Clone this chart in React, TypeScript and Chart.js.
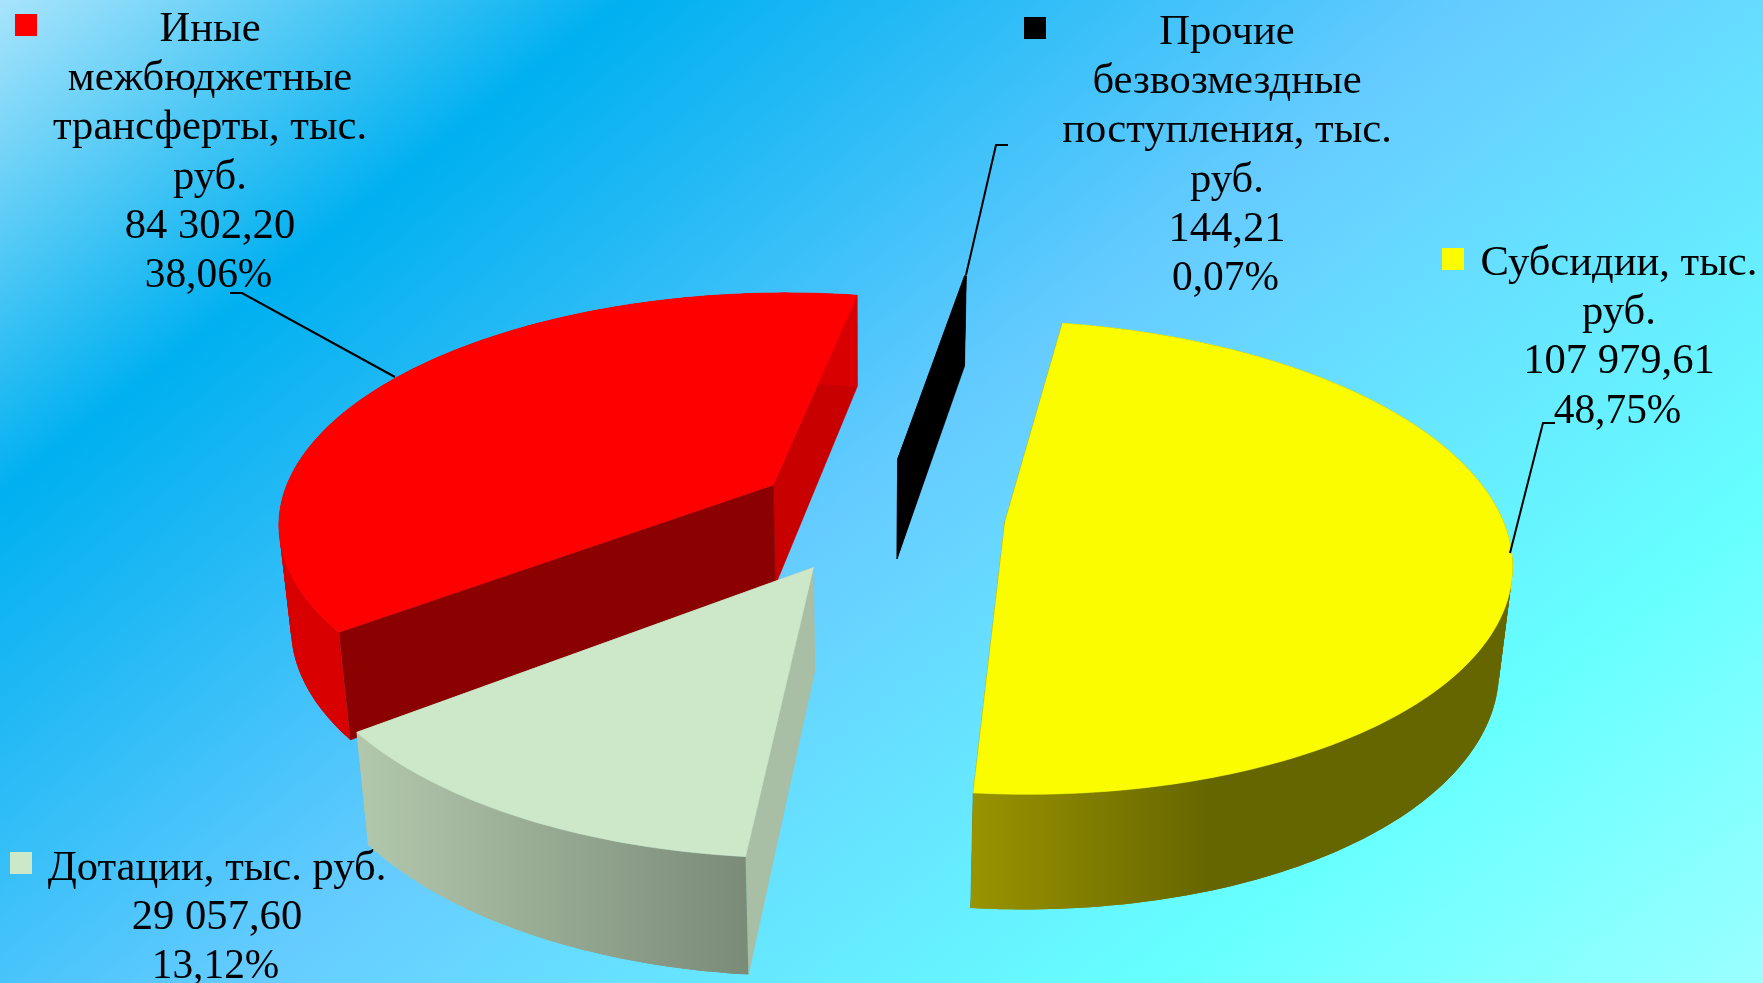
import React, { useEffect, useRef } from "react";
import { Chart, registerables } from "chart.js";

Chart.register(...registerables);

// ---- data ----
const categories = [
  "Субсидии, тыс. руб.",
  "Дотации, тыс. руб.",
  "Иные межбюджетные трансферты, тыс. руб.",
  "Прочие безвозмездные поступления, тыс. руб.",
];
const seriesValues = [107979.61, 29057.6, 84302.2, 144.21];
const valueLabels = ["107 979,61", "29 057,60", "84 302,20", "144,21"];
const percentLabels = ["48,75%", "13,12%", "38,06%", "0,07%"];
const nameLines = [
  ["Субсидии, тыс.", "руб."],
  ["Дотации, тыс. руб."],
  ["Иные", "межбюджетные", "трансферты, тыс.", "руб."],
  ["Прочие", "безвозмездные", "поступления, тыс.", "руб."],
];

// ---- styles ----
const topColors = ["#fcfc00", "#cde8c9", "#ff0000", "#000000"];
const startFaceColors = ["#666600", "#a8bea5", "#8b0000", "#000000"];
const endFaceColors = ["#666600", "#a8bea5", "#c80000", "#000000"];
const drawOrder = [3, 0, 2, 1];

const W = 1763;
const H = 983;
const FONT = '42.6px "Liberation Serif"';
const PERCENT_FONT = '41.4px "Liberation Serif"';
const LINE = 49.2;
const PERCENT_SHIFT = -1.5;

// label layout: text centre x, first baseline y, swatch x, swatch y
const labelBoxes = [
  { cx: 1619, y: 275, sx: 1442, sy: 248 },
  { cx: 217, y: 880, sx: 10, sy: 852 },
  { cx: 210, y: 41, sx: 15, sy: 14 },
  { cx: 1227, y: 44, sx: 1024, sy: 17 },
];
const leaders = [
  [[1555, 423], [1543, 423], [1510, 553]],
  [],
  [[230, 293], [242, 293], [395, 377]],
  [[1008, 145], [996, 145], [966, 275]],
];

// 3D projection of the flat pie plane
const sliceExplode = [0.258, 0.258, 0.25, 0.25];
const PERSPECTIVE = 0.15;
const SCALE_X = 1.009;
const SCALE_Y = 0.466;
const CENTER_SHIFT_X = -4;
const CENTER_SHIFT_Y = 22.5;
const DEPTH = 102;
const DEPTH_POWER = 0.72;
const NADIR_X = 866;
const LEAN = 0.0002;

type P = { x: number; y: number };

function project(cx: number, cy: number, R: number, u: number, v: number) {
  const w = 1 + PERSPECTIVE * v;
  const top: P = {
    x: cx + CENTER_SHIFT_X + (SCALE_X * R * u) / w,
    y: cy + CENTER_SHIFT_Y - (SCALE_Y * R * v) / w,
  };
  const d = DEPTH / Math.pow(w, DEPTH_POWER);
  const bottom: P = {
    x: top.x + (NADIR_X - top.x) * LEAN * d,
    y: top.y + d,
  };
  return { top, bottom };
}

function path(ctx: CanvasRenderingContext2D, pts: P[], fill: string | CanvasGradient) {
  ctx.beginPath();
  pts.forEach((p, i) => (i ? ctx.lineTo(p.x, p.y) : ctx.moveTo(p.x, p.y)));
  ctx.closePath();
  ctx.fillStyle = fill;
  ctx.fill();
}

function poly(ctx: CanvasRenderingContext2D, pts: P[], fill: string | CanvasGradient) {
  path(ctx, pts, fill);
  ctx.strokeStyle = fill;
  ctx.lineWidth = 0.6;
  ctx.stroke();
}

function wallFill(ctx: CanvasRenderingContext2D, index: number): string | CanvasGradient {
  if (index === 0) {
    const g = ctx.createLinearGradient(970, 0, 1210, 0);
    g.addColorStop(0, "#999400");
    g.addColorStop(1, "#666600");
    return g;
  }
  if (index === 1) {
    const g = ctx.createLinearGradient(358, 0, 748, 0);
    g.addColorStop(0, "#b2c8ac");
    g.addColorStop(1, "#7a8b78");
    return g;
  }
  if (index === 2) return "#d80000";
  return "#000000";
}

const background = {
  id: "background3d",
  beforeDraw(chart: any) {
    const ctx = chart.ctx as CanvasRenderingContext2D;
    const len = 1860;
    const g = ctx.createLinearGradient(0, 0, 0.62 * len, 0.78 * len);
    g.addColorStop(0, "#a8e4fb");
    g.addColorStop(0.21, "#00b0f0");
    g.addColorStop(0.5, "#66ccff");
    g.addColorStop(0.8, "#66ffff");
    g.addColorStop(1, "#99ffff");
    ctx.fillStyle = g;
    ctx.fillRect(0, 0, W, H);
  },
};

const pie3d = {
  id: "pie3d",
  beforeDatasetDraw(chart: any) {
    const ctx = chart.ctx as CanvasRenderingContext2D;
    const arcs = chart.getDatasetMeta(0).data;
    ctx.save();
    for (const i of drawOrder) {
      const el = arcs[i];
      const { x, y, outerRadius: R, startAngle: a0, endAngle: a1 } = el;
      const mid = (a0 + a1) / 2;
      const u0 = Math.cos(mid) * sliceExplode[i];
      const v0 = -Math.sin(mid) * sliceExplode[i];
      const at = (r: number, a: number) =>
        project(x, y, R, u0 + r * Math.cos(a), v0 - r * Math.sin(a));
      const steps = Math.max(2, Math.ceil(((a1 - a0) / (2 * Math.PI)) * 360));
      const tops: P[] = [];
      const bottoms: P[] = [];
      for (let s = 0; s <= steps; s++) {
        const p = at(1, a0 + ((a1 - a0) * s) / steps);
        tops.push(p.top);
        bottoms.push(p.bottom);
      }
      const c = at(0, 0);
      // radial faces
      poly(ctx, [c.top, tops[tops.length - 1], bottoms[bottoms.length - 1], c.bottom], endFaceColors[i]);
      poly(ctx, [c.top, tops[0], bottoms[0], c.bottom], startFaceColors[i]);
      // outer wall: overlapping quads, so no seams and a straight silhouette
      const fill = wallFill(ctx, i);
      for (let s = 0; s < steps; s++) {
        const e = Math.min(steps, s + 2);
        path(ctx, [tops[s], tops[s + 1], tops[e], bottoms[e], bottoms[s + 1], bottoms[s]], fill);
      }
      // top
      poly(ctx, [c.top, ...tops], topColors[i]);
    }
    ctx.restore();
    return false;
  },
};

const labels3d = {
  id: "labels3d",
  afterDatasetsDraw(chart: any) {
    const ctx = chart.ctx as CanvasRenderingContext2D;
    ctx.save();
    ctx.textAlign = "center";
    ctx.textBaseline = "alphabetic";
    labelBoxes.forEach((b, i) => {
      ctx.fillStyle = topColors[i];
      ctx.fillRect(b.sx, b.sy, 22, 22);
      ctx.fillStyle = "#000000";
      ctx.font = FONT;
      const lines = [...nameLines[i], valueLabels[i]];
      lines.forEach((t, k) => ctx.fillText(t, b.cx, b.y + k * LINE));
      ctx.font = PERCENT_FONT;
      ctx.fillText(percentLabels[i], b.cx + PERCENT_SHIFT, b.y + lines.length * LINE);
      const l = leaders[i];
      if (l.length) {
        ctx.beginPath();
        l.forEach((p, k) => (k ? ctx.lineTo(p[0], p[1]) : ctx.moveTo(p[0], p[1])));
        ctx.strokeStyle = "#000000";
        ctx.lineWidth = 2;
        ctx.stroke();
      }
    });
    ctx.restore();
  },
};

export default function App() {
  const ref = useRef<HTMLCanvasElement>(null);
  useEffect(() => {
    document.body.style.margin = "0";
    document.body.style.overflow = "hidden";
    const chart = new Chart(ref.current as HTMLCanvasElement, {
      type: "pie",
      data: {
        labels: categories,
        datasets: [{ data: seriesValues, backgroundColor: topColors, borderWidth: 0 }],
      },
      options: {
        animation: false,
        responsive: false,
        devicePixelRatio: 1,
        rotation: 9.8,
        layout: { padding: 0 },
        plugins: { legend: { display: false }, tooltip: { enabled: false } },
      },
      plugins: [background, pie3d, labels3d],
    } as any);
    return () => chart.destroy();
  }, []);
  return <canvas ref={ref} width={W} height={H} style={{ display: "block", width: W, height: H }} />;
}
